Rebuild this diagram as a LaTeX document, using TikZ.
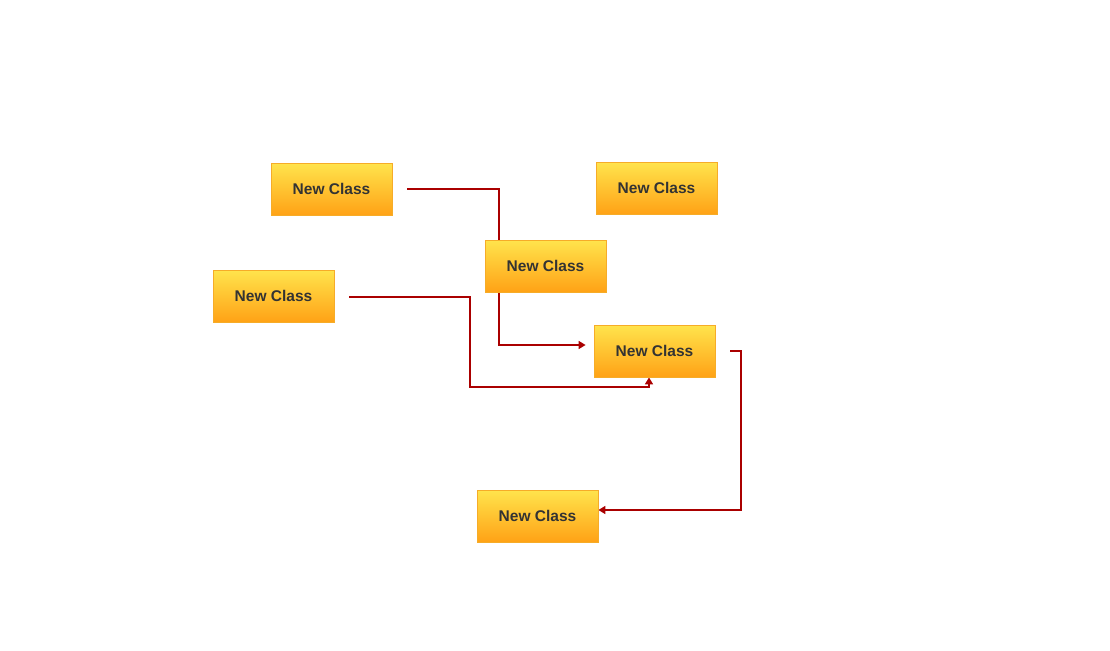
\documentclass[tikz,border=0pt]{standalone}
\usepackage{fontspec}
\setmainfont{Liberation Sans}
\usetikzlibrary{arrows.meta,backgrounds,calc}
\definecolor{boxtop}{RGB}{255,228,76}
\definecolor{boxbot}{RGB}{255,162,22}
\definecolor{boxedge}{RGB}{246,172,40}
\definecolor{linkred}{RGB}{170,0,0}
\definecolor{txt}{RGB}{51,51,51}
\begin{document}
\begin{tikzpicture}[x=1pt,y=-1pt,
  classbox/.style={draw=boxedge, line width=0.8pt, top color=boxtop, bottom color=boxbot,
    minimum width=121pt, minimum height=52pt, inner sep=0pt,
    font=\fontsize{15.5}{17}\selectfont\bfseries, text=txt},
  conn/.style={draw=linkred, line width=1.6pt, -{Triangle[length=7pt,width=8pt]}}]
\useasboundingbox (0,0) rectangle (1110,650);
\node[classbox] (A) at (331.5,189) {New Class};
\node[classbox] (B) at (656.5,188) {New Class};
\node[classbox] (C) at (545.5,266) {New Class};
\node[classbox] (D) at (273.5,296) {New Class};
\node[classbox] (E) at (654.5,351) {New Class};
\node[classbox] (F) at (537.5,516) {New Class};
\coordinate (a1) at ($(A.east)+(15,0)$);
\coordinate (c1) at (499,189);
\coordinate (e1) at ($(E.west)+(0,-6)$);
\coordinate (d1) at ($(D.east)+(15,1)$);
\coordinate (d2) at (470,387);
\coordinate (e2) at ($(E.south)+(-5.5,0)$);
\coordinate (e3) at ($(E.east)+(15,0)$);
\coordinate (f1) at (741,510);
\coordinate (f2) at ($(F.east)+(0,-6)$);
\begin{scope}[on background layer]
\draw[conn, shorten >=8pt] (a1) -- (c1) |- (e1);
\draw[conn] (d1) -| (d2) -| (e2);
\draw[conn] (e3) -| (f1) -- (f2);
\end{scope}
\end{tikzpicture}
\end{document}
